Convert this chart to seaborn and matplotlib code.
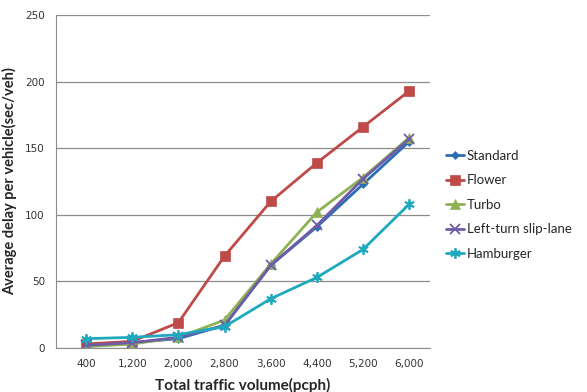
import pandas as pd
import matplotlib.pyplot as plt
import seaborn as sns

volumes = ["400", "1,200", "2,000", "2,800", "3,600", "4,400", "5,200", "6,000"]
standard = [2, 4, 7, 17, 62, 91, 123, 155]
flower = [3, 5, 19, 69, 110, 139, 166, 193]
turbo = [1, 3, 8, 21, 63, 102, 128, 158]
slip_lane = [2, 4, 8, 17, 62, 92, 127, 157]
hamburger = [7, 8, 10, 16, 37, 53, 74, 108]

series = {
    "Standard": standard,
    "Flower": flower,
    "Turbo": turbo,
    "Left-turn slip-lane": slip_lane,
    "Hamburger": hamburger,
}
colors = ["#2A6EB5", "#BE4B48", "#8DB255", "#6F5BA8", "#1FA9BF"]
markers = ["D", "s", "^", "x", (6, 2, 0)]
sizes = [4.5, 6.5, 6.5, 6.5, 7.5]

rows = []
for name, vals in series.items():
    for i, v in enumerate(vals):
        rows.append({"volume": volumes[i], "pos": i, "delay": v, "design": name})
df = pd.DataFrame(rows)

sns.set_style("white")
plt.rcParams["font.family"] = ["Lato", "DejaVu Sans"]

fig = plt.figure(figsize=(5.87, 3.92), dpi=100)
ax = fig.add_axes([56 / 587, 44 / 392, 374 / 587, 333 / 392])

for (name, vals), c, m, s in zip(series.items(), colors, markers, sizes):
    sub = df[df["design"] == name]
    sns.lineplot(data=sub, x="pos", y="delay", ax=ax, color=c, marker=m,
                 markersize=s, linewidth=2.0, markeredgecolor=c,
                 markeredgewidth=1.3 if m in ("x", (6, 2, 0)) else 0.5,
                 label=name)

ax.set_xlim(-0.65, 7.45)
ax.set_ylim(0, 250)
ax.set_yticks(range(0, 251, 50))
ax.set_xticks(range(len(volumes)))
ax.set_xticklabels(volumes)
ax.yaxis.grid(True, color="#8c8c8c", linewidth=0.9)
ax.xaxis.grid(False)
for sp in ["top", "right"]:
    ax.spines[sp].set_visible(False)
ax.spines["left"].set_color("#8c8c8c")
ax.spines["bottom"].set_color("#8c8c8c")
ax.tick_params(axis="both", colors="#333333", length=0, pad=8)
for t in ax.get_xticklabels() + ax.get_yticklabels():
    t.set_family("DejaVu Sans")
    t.set_fontsize(7.5)

ax.set_xlabel("Total traffic volume(pcph)", fontsize=11, fontweight="bold", labelpad=6)
ax.set_ylabel("Average delay per vehicle(sec/veh)", fontsize=10.5, fontweight="bold", labelpad=6)

ax.legend(loc="center left", bbox_to_anchor=(1.01, 0.43), frameon=False,
          fontsize=9.5, handlelength=1.4, handletextpad=0.2, labelspacing=0.95)

fig.savefig("out.png", dpi=100)
